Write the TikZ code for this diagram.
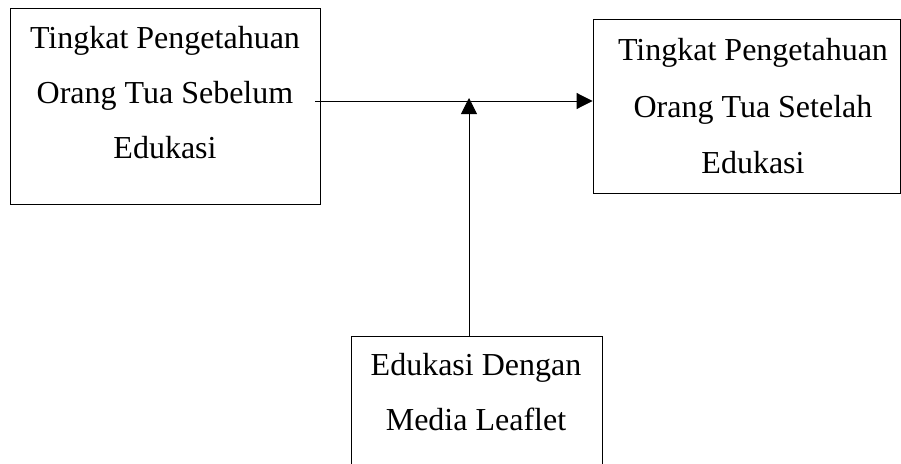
\documentclass[tikz,border=0pt]{standalone}
\usepackage{fontspec}
\setmainfont{Liberation Serif}
\usetikzlibrary{arrows.meta}
\begin{document}
\begin{tikzpicture}[x=1pt,y=-1pt,
  boxframe/.style={draw=black,line width=0.9pt},
  txt/.style={inner sep=0pt,align=center,anchor=north},
  conn/.style={line width=0.9pt,-{Triangle[length=16pt,width=16pt]}}]
\useasboundingbox (0,0) rectangle (901,463);
\clip (0,0) rectangle (901,463);
% boxes
\node[boxframe,inner sep=0pt,minimum width=310pt,minimum height=196pt] (L) at (165,106) {};
\node[boxframe,inner sep=0pt,minimum width=307pt,minimum height=174pt] (R) at (746.5,106) {};
\node[boxframe,inner sep=0pt,minimum width=251pt,minimum height=134pt] (B) at (476.5,403) {};
% texts
\node[txt,font=\fontsize{32}{55}\selectfont] (Lt) at (165,26.1) {Tingkat Pengetahuan\\Orang Tua Sebelum\\Edukasi};
\node[txt,font=\fontsize{32}{56.5}\selectfont] (Rt) at (753,38.1) {Tingkat Pengetahuan\\Orang Tua Setelah\\Edukasi};
\node[txt,font=\fontsize{32}{55}\selectfont] (Bt) at (476,353.1) {Edukasi Dengan\\Media Leaflet};
% connectors
\coordinate (hs) at (315,101);
\coordinate (vt) at (469,98);
\coordinate (vb) at (469,336);
\draw[conn] (hs) -- (R.west |- hs);
\draw[conn] (vb) -- (vt);
\end{tikzpicture}
\end{document}
